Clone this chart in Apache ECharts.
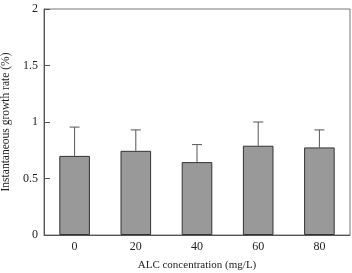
<!DOCTYPE html>
<html><head><meta charset="utf-8">
<script src="https://cdn.jsdelivr.net/npm/echarts@6/dist/echarts.min.js"></script>
<style>html,body{margin:0;padding:0;background:#fff}#c{width:352px;height:273px}</style>
</head><body><div id="c"></div>
<script>
var categories = ['0', '20', '40', '60', '80'];
var means = [0.70, 0.745, 0.645, 0.79, 0.775];
var upper = [0.955, 0.93, 0.80, 1.0, 0.93];
var yTicks = [0, 0.5, 1, 1.5, 2];

var chart = echarts.init(document.getElementById('c'));
var font = '"Liberation Serif", "DejaVu Serif", serif';
chart.setOption({
  animation: false,
  grid: {left: 44, right: 2, top: 9, bottom: 38, show: true, borderColor: '#777', borderWidth: 1,
         containLabel: false, outerBoundsMode: 'none'},
  xAxis: {
    type: 'category', data: categories,
    name: 'ALC concentration (mg/L)', nameLocation: 'middle', nameGap: 25,
    nameTextStyle: {fontFamily: font, fontSize: 11, color: '#222'},
    axisLine: {lineStyle: {color: '#555'}},
    axisTick: {inside: true, length: 5, lineStyle: {color: '#555'}},
    axisLabel: {fontFamily: font, fontSize: 12, color: '#222', margin: 6}
  },
  yAxis: {
    type: 'value', min: 0, max: 2, interval: 0.5,
    name: 'Instantaneous growth rate (%)', nameLocation: 'middle', nameGap: 31,
    nameTextStyle: {fontFamily: font, fontSize: 11.5, color: '#222'},
    axisLine: {show: true, lineStyle: {color: '#555'}},
    axisTick: {show: true, inside: true, length: 6, lineStyle: {color: '#555'}},
    splitLine: {show: false},
    axisLabel: {fontFamily: font, fontSize: 12, color: '#222', margin: 6,
      formatter: function (v) { return String(v); }}
  },
  series: [
    {type: 'bar', data: means, barWidth: '50%',
     itemStyle: {color: '#999', borderColor: '#333', borderWidth: 1}},
    {type: 'custom', data: categories.map(function (c, i) { return [i, means[i], upper[i]]; }),
     z: 1,
     renderItem: function (params, api) {
       var b = api.coord([api.value(0), api.value(1)]);
       var t = api.coord([api.value(0), api.value(2)]);
       var w = 5;
       return {type: 'group', children: [
         {type: 'line', shape: {x1: b[0], y1: b[1], x2: t[0], y2: t[1]}, style: {stroke: '#555', lineWidth: 1}},
         {type: 'line', shape: {x1: t[0] - w, y1: t[1], x2: t[0] + w, y2: t[1]}, style: {stroke: '#555', lineWidth: 1}}
       ]};
     }}
  ]
});
</script></body></html>
